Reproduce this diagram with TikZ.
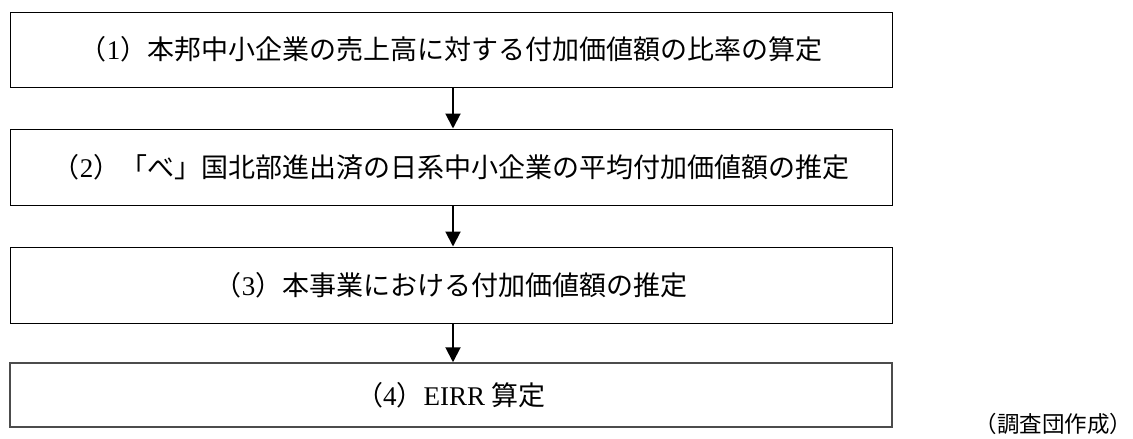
\documentclass[tikz,border=0pt]{standalone}
\usepackage{fontspec}
\setmainfont{Noto Sans CJK JP}
\newfontfamily\lat{Liberation Serif}
\usetikzlibrary{arrows.meta}
\begin{document}
\begin{tikzpicture}[x=1pt,y=-1pt,
  box/.style={draw=black, line width=1pt, minimum width=882pt, inner sep=0pt,
              font=\fontsize{27}{32}\selectfont},
  flow/.style={line width=2pt, -{Triangle[width=15pt,length=15pt]}},
  caption/.style={inner sep=0pt, font=\fontsize{22.5}{27}\selectfont}]
\useasboundingbox (0,0) rectangle (1133,439);
\node[box, minimum height=75pt] (b1) at (451,49.5)
  {（{\lat 1}）本邦中小企業の売上高に対する付加価値額の比率の算定};
\node[box, minimum height=76pt] (b2) at (451,167)
  {（{\lat 2}）「べ」国北部進出済の日系中小企業の平均付加価値額の推定};
\node[box, minimum height=76pt] (b3) at (451,285)
  {（{\lat 3}）本事業における付加価値額の推定};
\node[box, draw=black!70, line width=1.5pt, minimum height=64pt] (b4) at (451,395)
  {（{\lat 4}）{\lat EIRR }算定};
\draw[flow] ([xshift=2pt]b1.south) -- ([xshift=2pt]b2.north);
\draw[flow] ([xshift=2pt]b2.south) -- ([xshift=2pt]b3.north);
\draw[flow] ([xshift=2pt]b3.south) -- ([xshift=2pt]b4.north);
\node[caption, anchor=east] (src) at (1132.5,424) {（調査団作成）};
\end{tikzpicture}
\end{document}
